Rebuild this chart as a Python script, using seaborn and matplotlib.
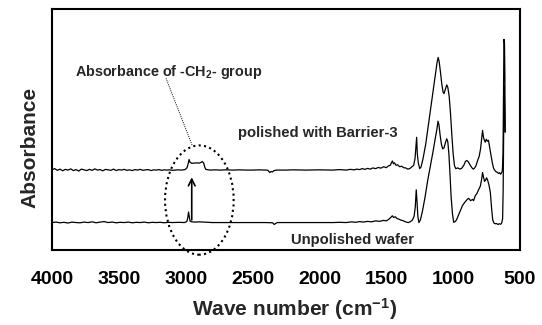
import matplotlib
matplotlib.use("Agg")
import matplotlib.pyplot as plt
from matplotlib.patches import Ellipse
import seaborn as sns
import pandas as pd

# ---- data (wavenumber cm-1, absorbance a.u.) ----
polished_spectrum = [
    (4000, .334), (3980, .338), (3960, .331), (3940, .336), (3920, .329), (3900, .335),
    (3880, .332), (3860, .337), (3840, .330), (3820, .334), (3800, .328), (3780, .336),
    (3760, .333), (3740, .330), (3720, .335), (3700, .331), (3680, .337), (3660, .332),
    (3640, .334), (3620, .329), (3600, .335), (3580, .333), (3560, .331), (3540, .336),
    (3520, .330), (3500, .334), (3480, .332), (3460, .335), (3440, .331), (3420, .333),
    (3400, .330), (3380, .334), (3360, .332), (3340, .335), (3320, .331), (3300, .333),
    (3280, .334), (3260, .330), (3240, .333), (3220, .332), (3200, .334), (3180, .331),
    (3160, .333), (3140, .332), (3120, .333), (3100, .331), (3060, .333), (3030, .332),
    (3005, .334), (2990, .342), (2980, .362), (2975, .376), (2968, .365), (2955, .360),
    (2940, .361), (2920, .362), (2900, .361), (2885, .364), (2876, .367), (2866, .362),
    (2858, .345), (2850, .335), (2820, .332), (2780, .333), (2740, .332), (2700, .333),
    (2650, .332), (2600, .333), (2550, .332), (2500, .332), (2450, .333), (2400, .332),
    (2385, .331), (2372, .322), (2362, .326), (2352, .324), (2340, .330), (2320, .332),
    (2250, .332), (2200, .333), (2100, .332), (2000, .333), (1900, .332), (1850, .334),
    (1800, .332), (1770, .335), (1740, .333), (1720, .336), (1700, .334), (1680, .338),
    (1660, .335), (1640, .339), (1620, .336), (1600, .341), (1580, .338), (1560, .343),
    (1540, .340), (1520, .346), (1500, .342), (1485, .349), (1470, .352), (1460, .364),
    (1454, .370), (1446, .358), (1438, .362), (1428, .352), (1415, .354), (1400, .346),
    (1385, .348), (1370, .342), (1355, .341), (1340, .336), (1325, .338), (1310, .345),
    (1295, .352), (1285, .380), (1278, .430), (1273, .468), (1268, .400), (1260, .360),
    (1250, .338), (1240, .345), (1225, .380), (1205, .440), (1185, .520), (1165, .600),
    (1145, .680), (1130, .740), (1120, .780), (1112, .800), (1105, .785), (1095, .740),
    (1085, .690), (1075, .655), (1068, .650), (1058, .668), (1048, .686), (1040, .676),
    (1030, .640), (1020, .570), (1010, .480), (1000, .400), (990, .350), (980, .338),
    (965, .341), (950, .336), (935, .340), (920, .352), (908, .368), (898, .372),
    (886, .366), (872, .352), (860, .342), (850, .336), (840, .340), (828, .352),
    (815, .375), (805, .390), (795, .420), (788, .455), (780, .497), (774, .472),
    (768, .458), (760, .448), (752, .460), (744, .452), (736, .456), (728, .430),
    (718, .400), (708, .365), (698, .340), (688, .330), (678, .325), (668, .322),
    (660, .318), (652, .321), (645, .315), (638, .320), (632, .330), (627, .400),
    (623, .650), (620, .875), (616, .860), (613, .720), (611, .490),
]

unpolished_spectrum = [
    (4000, .114), (3970, .116), (3940, .113), (3910, .115), (3880, .112), (3850, .116),
    (3820, .114), (3790, .113), (3760, .116), (3730, .114), (3700, .117), (3670, .113),
    (3640, .116), (3610, .118), (3580, .114), (3550, .116), (3520, .113), (3490, .115),
    (3460, .114), (3430, .116), (3400, .113), (3370, .115), (3340, .114), (3310, .116),
    (3280, .113), (3250, .115), (3220, .114), (3190, .115), (3160, .113), (3130, .115),
    (3100, .114), (3050, .115), (3010, .114), (2992, .118), (2984, .135), (2979, .158),
    (2974, .140), (2968, .120), (2955, .117), (2930, .116), (2900, .117), (2870, .116),
    (2840, .115), (2800, .114), (2700, .114), (2600, .114), (2500, .114), (2400, .114),
    (2350, .113), (2338, .106), (2328, .110), (2315, .114), (2200, .114), (2100, .114),
    (2000, .114), (1900, .114), (1850, .115), (1800, .114), (1760, .117), (1730, .115),
    (1700, .118), (1670, .116), (1640, .119), (1610, .117), (1580, .121), (1550, .119),
    (1520, .123), (1500, .121), (1480, .128), (1465, .136), (1455, .142), (1445, .135),
    (1432, .138), (1420, .131), (1405, .128), (1390, .124), (1375, .122), (1360, .118),
    (1345, .115), (1335, .114), (1320, .118), (1305, .124), (1292, .140), (1283, .180),
    (1276, .250), (1270, .200), (1264, .140), (1256, .114), (1245, .125), (1230, .160),
    (1210, .220), (1190, .290), (1170, .350), (1150, .410), (1135, .460), (1122, .500),
    (1113, .535), (1106, .520), (1098, .480), (1088, .440), (1078, .420), (1068, .425),
    (1058, .445), (1048, .462), (1040, .450), (1032, .400), (1024, .320), (1015, .220),
    (1005, .150), (996, .115), (985, .118), (975, .125), (960, .145), (945, .165),
    (930, .185), (910, .200), (895, .210), (884, .215), (870, .205), (855, .210),
    (847, .205), (835, .225), (822, .235), (810, .250), (797, .265), (788, .290),
    (780, .322), (772, .300), (765, .285), (758, .290), (750, .300), (742, .290),
    (732, .270), (722, .240), (712, .170), (704, .125), (695, .112), (685, .109),
    (675, .110), (665, .106), (655, .109), (645, .107), (637, .112), (630, .130),
    (626, .250), (622, .500), (619, .680), (616, .620), (613, .550), (611, .490),
]

sample_names = ["polished with Barrier-3", "Unpolished wafer"]
x_ticks = [4000, 3500, 3000, 2500, 2000, 1500, 1000, 500]

# ---- build long table ----
rows = []
for name, spec in zip(sample_names, [polished_spectrum, unpolished_spectrum]):
    for wn, a in spec:
        rows.append({"wn": wn, "absorbance": a, "sample": name})
df = pd.DataFrame(rows)

sns.set_style("white")
plt.rcParams["font.family"] = ["Liberation Sans", "DejaVu Sans"]
plt.rcParams["font.weight"] = "bold"
plt.rcParams["mathtext.fontset"] = "custom"
plt.rcParams["mathtext.rm"] = "Liberation Sans:bold"
plt.rcParams["mathtext.bf"] = "Liberation Sans:bold"
plt.rcParams["mathtext.default"] = "bf"

fig = plt.figure(figsize=(5.42, 3.25), dpi=100)
ax = fig.add_axes([52 / 542, 1 - 250 / 325, 468 / 542, (250 - 9.3) / 325])

sns.lineplot(data=df, x="wn", y="absorbance", hue="sample",
             palette=["black", "black"], sort=False, estimator=None,
             legend=False, linewidth=0.9, ax=ax)

ax.set_xlim(4000, 500)
ax.set_ylim(0, 1)
ax.set_xticks(x_ticks)
ax.set_xticklabels([str(t) for t in x_ticks])
ax.set_yticks([])
ax.tick_params(axis="x", direction="in", length=5, width=1, pad=15,
               labelsize=14, colors="black")
for lab in ax.get_xticklabels():
    lab.set_fontweight("bold")
for s in ax.spines.values():
    s.set_linewidth(1.5)
    s.set_color("black")
    s.set_zorder(6)

ax.set_xlabel("Wave number (cm$^{-1}$)", fontsize=15, fontweight="bold")
ax.xaxis.set_label_coords(0.518, -0.19)
ax.set_ylabel("Absorbance", fontsize=15, fontweight="bold")
ax.yaxis.set_label_coords(-0.027, 0.428)

# annotations
ax.text(2009, 0.485, sample_names[0], ha="center", va="center",
        fontsize=10.6, fontweight="bold")
ax.text(1753, 0.041, sample_names[1], ha="center", va="center",
        fontsize=10.6, fontweight="bold", zorder=5,
        bbox=dict(facecolor="white", edgecolor="none", pad=0.8))
ax.text(3129, 0.741, "Absorbance of -CH$_2$- group", ha="center", va="center",
        fontsize=10.4, fontweight="bold")
ax.plot([3147, 2952], [0.713, 0.435], color="black", lw=0.7, ls=(0, (1, 1.2)))
ax.add_patch(Ellipse((2898, 0.2075), width=513, height=0.454, fill=False,
                     edgecolor="black", lw=1.5, ls=(0, (1, 1.6)), clip_on=False,
                     zorder=4))
ax.annotate("", xy=(2955, 0.302), xytext=(2955, 0.125),
            arrowprops=dict(arrowstyle="->", lw=1.2, color="black",
                            mutation_scale=12, shrinkA=0, shrinkB=0))

fig.savefig("out.png", dpi=100, facecolor="white")
